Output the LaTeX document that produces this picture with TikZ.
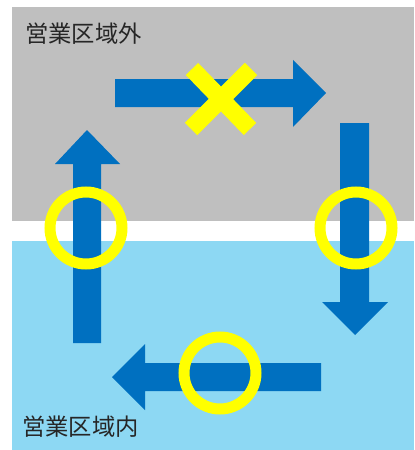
\documentclass[tikz,border=0pt]{standalone}
\usepackage{fontspec}
\newfontfamily\jpfont{Noto Sans CJK JP}
\definecolor{areagray}{RGB}{191,191,191}
\definecolor{arealightblue}{RGB}{141,216,243}
\definecolor{arrowblue}{RGB}{0,112,192}
\definecolor{markyellow}{RGB}{255,255,0}
\tikzset{
  blockarrow/.style={fill=arrowblue},
  okring/.style={draw=markyellow, line width=0.33cm},
  ngcross/.style={draw=markyellow, line width=0.52cm},
  arealabel/.style={anchor=base west, inner sep=0pt, text=black!85,
    font=\jpfont\fontsize{19.9}{24}\selectfont}
}

\begin{document}
\begin{tikzpicture}[x=0.03cm, y=-0.03cm]
        \useasboundingbox (0,0) rectangle (414,450);
        
        % Outside area (gray) and inside area (light blue)
        \fill[areagray] (12,7) rectangle (414,221);
        \fill[arealightblue] (12,241) rectangle (414,450);
        
        % Area labels
        \node[arealabel] (outside) at (25,43) {営業区域外};
        \node[arealabel] (inside) at (22,435) {営業区域内};
        
        % Top arrow (to the right)
        \fill[blockarrow] (115,79) -- (293,79) -- (293,60) -- (326,93)
            -- (293,127) -- (293,107) -- (115,107) -- cycle;
        
        % Right arrow (down)
        \fill[blockarrow] (340,123) -- (369,123) -- (369,302) -- (388,302)
            -- (355,335) -- (322,302) -- (340,302) -- cycle;
        
        % Bottom arrow (to the left)
        \fill[blockarrow] (321,363) -- (321,391) -- (145,391) -- (145,410)
            -- (112,377) -- (145,344) -- (145,363) -- cycle;
        
        % Left arrow (up)
        \fill[blockarrow] (73,343) -- (73,164) -- (55,164) -- (87,130)
            -- (120,164) -- (101,164) -- (101,343) -- cycle;
        
        % Cross on the top arrow
        \draw[ngcross] (192,69) -- (250,129);
        \draw[ngcross] (251,69) -- (191,129);
        
        % Rings on the other arrows
        \draw[okring] (86,228) circle[radius=36];
        \draw[okring] (356,228) circle[radius=36];
        \draw[okring] (220,373) circle[radius=36];
        
    \end{tikzpicture}
\end{document}
